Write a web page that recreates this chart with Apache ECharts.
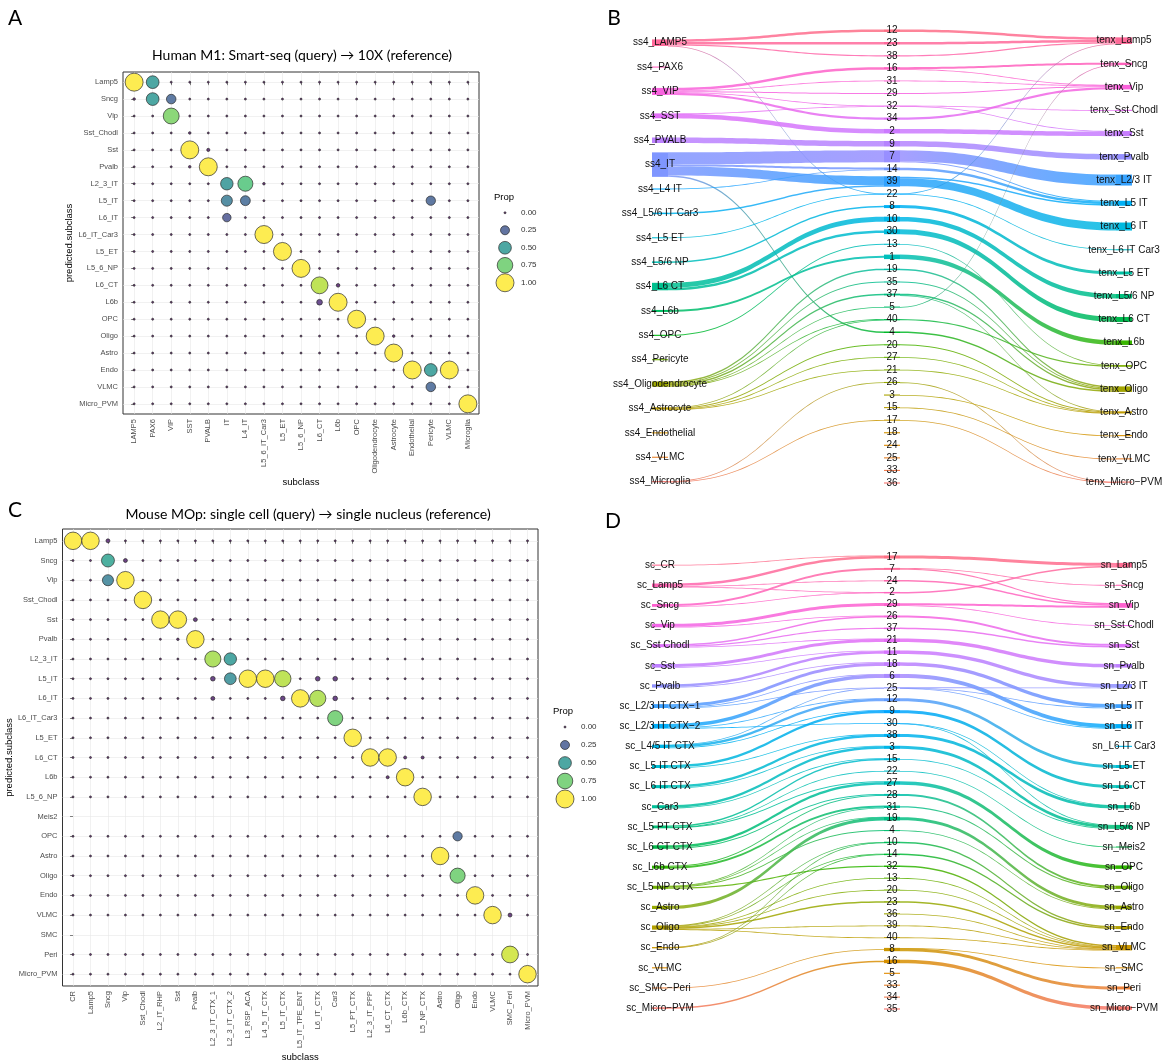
<!DOCTYPE html>
<html><head><meta charset="utf-8">
<script src="https://cdn.jsdelivr.net/npm/echarts@6/dist/echarts.min.js"></script>
<style>html,body{margin:0;padding:0;background:#fff}#c{width:1164px;height:1063px}</style>
</head><body><div id="c"></div>
<script>
// ================= DATA =================
// Panel A (dot plot)
const rowsA = ['Lamp5','Sncg','Vip','Sst_Chodl','Sst','Pvalb','L2_3_IT','L5_IT','L6_IT','L6_IT_Car3','L5_ET','L5_6_NP','L6_CT','L6b','OPC','Oligo','Astro','Endo','VLMC','Micro_PVM'];
const colsA = ['LAMP5','PAX6','VIP','SST','PVALB','IT','L4_IT','L5_6_IT_Car3','L5_ET','L5_6_NP','L6_CT','L6b','OPC','Oligodendrocyte','Astrocyte','Endothelial','Pericyte','VLMC','Microglia'];
const propA = [
 ['Lamp5','LAMP5',1.0],['Lamp5','PAX6',0.5],['Lamp5','VIP',0.01],
 ['Sncg','LAMP5',0.02],['Sncg','PAX6',0.5],['Sncg','VIP',0.28],
 ['Vip','VIP',0.78],
 ['Sst_Chodl','SST',0.02],
 ['Sst','VIP',0.01],['Sst','SST',1.0],['Sst','PVALB',0.03],
 ['Pvalb','SST',0.02],['Pvalb','PVALB',1.0],
 ['L2_3_IT','VIP',0.01],['L2_3_IT','IT',0.48],['L2_3_IT','L4_IT',0.7],['L2_3_IT','L5_6_IT_Car3',0.02],
 ['L5_IT','VIP',0.01],['L5_IT','SST',0.01],['L5_IT','IT',0.38],['L5_IT','L4_IT',0.3],['L5_IT','L6_CT',0.01],['L5_IT','Pericyte',0.27],
 ['L6_IT','IT',0.22],
 ['L6_IT_Car3','L5_6_IT_Car3',1.0],
 ['L5_ET','L5_ET',1.0],
 ['L5_6_NP','L5_6_NP',1.0],
 ['L6_CT','L6_CT',0.88],['L6_CT','L6b',0.04],
 ['L6b','L6_CT',0.1],['L6b','L6b',1.0],
 ['OPC','OPC',1.0],
 ['Oligo','PVALB',0.01],['Oligo','L6_CT',0.01],['Oligo','Oligodendrocyte',1.0],['Oligo','Astrocyte',0.02],
 ['Astro','Astrocyte',1.0],
 ['Endo','Oligodendrocyte',0.01],['Endo','Endothelial',1.0],['Endo','Pericyte',0.5],['Endo','VLMC',1.0],
 ['VLMC','Pericyte',0.28],
 ['Micro_PVM','Microglia',1.0]
];
const emptyRowsA = [];

// Panel C (dot plot)
const rowsC = ['Lamp5','Sncg','Vip','Sst_Chodl','Sst','Pvalb','L2_3_IT','L5_IT','L6_IT','L6_IT_Car3','L5_ET','L6_CT','L6b','L5_6_NP','Meis2','OPC','Astro','Oligo','Endo','VLMC','SMC','Peri','Micro_PVM'];
const colsC = ['CR','Lamp5','Sncg','Vip','Sst_Chodl','L2_IT_RHP','Sst','Pvalb','L2_3_IT_CTX_1','L2_3_IT_CTX_2','L3_RSP_ACA','L4_5_IT_CTX','L5_IT_CTX','L5_IT_TPE_ENT','L6_IT_CTX','Car3','L5_PT_CTX','L2_3_IT_PPP','L6_CT_CTX','L6b_CTX','L5_NP_CTX','Astro','Oligo','Endo','VLMC','SMC_Peri','Micro_PVM'];
const propC = [
 ['Lamp5','CR',1.0],['Lamp5','Lamp5',1.0],['Lamp5','Sncg',0.05],['Lamp5','Vip',0.01],
 ['Sncg','Lamp5',0.01],['Sncg','Sncg',0.55],['Sncg','Vip',0.05],
 ['Vip','Lamp5',0.01],['Vip','Sncg',0.4],['Vip','Vip',1.0],['Vip','L5_IT_CTX',0.01],['Vip','L6_IT_CTX',0.01],['Vip','L5_PT_CTX',0.01],
 ['Sst_Chodl','Sst_Chodl',1.0],
 ['Sst','L2_IT_RHP',1.0],['Sst','Sst',1.0],['Sst','Pvalb',0.05],
 ['Pvalb','Sst',0.02],['Pvalb','Pvalb',1.0],
 ['L2_3_IT','L2_3_IT_CTX_1',0.85],['L2_3_IT','L2_3_IT_CTX_2',0.5],['L2_3_IT','L5_NP_CTX',0.01],
 ['L5_IT','Sst',0.01],['L5_IT','L2_3_IT_CTX_1',0.07],['L5_IT','L2_3_IT_CTX_2',0.45],['L5_IT','L3_RSP_ACA',1.0],['L5_IT','L4_5_IT_CTX',1.0],['L5_IT','L5_IT_CTX',0.88],['L5_IT','L6_IT_CTX',0.07],['L5_IT','Car3',0.07],
 ['L6_IT','L2_3_IT_CTX_1',0.05],['L6_IT','L4_5_IT_CTX',0.01],['L6_IT','L5_IT_CTX',0.07],['L6_IT','L5_IT_TPE_ENT',1.0],['L6_IT','L6_IT_CTX',0.86],['L6_IT','Car3',0.07],['L6_IT','Astro',0.01],
 ['L6_IT_Car3','Car3',0.75],
 ['L5_ET','L5_PT_CTX',1.0],
 ['L6_CT','L2_3_IT_PPP',1.0],['L6_CT','L6_CT_CTX',1.0],['L6_CT','L6b_CTX',0.03],['L6_CT','L5_NP_CTX',0.03],
 ['L6b','L6_CT_CTX',0.03],['L6b','L6b_CTX',1.0],
 ['L5_6_NP','L5_NP_CTX',1.0],
 ['OPC','Oligo',0.28],
 ['Astro','Astro',1.0],
 ['Oligo','Oligo',0.75],
 ['Endo','Endo',1.0],
 ['VLMC','VLMC',1.0],['VLMC','SMC_Peri',0.05],
 ['Peri','SMC_Peri',0.92],
 ['Micro_PVM','Micro_PVM',1.0]
];
const emptyRowsC = ['Meis2','SMC'];
const legendVals = [0, 0.25, 0.5, 0.75, 1.0];

// Panel B (river plot)
const leftB = ['ss4_LAMP5','ss4_PAX6','ss4_VIP','ss4_SST','ss4_PVALB','ss4_IT','ss4_L4 IT','ss4_L5/6 IT Car3','ss4_L5 ET','ss4_L5/6 NP','ss4_L6 CT','ss4_L6b','ss4_OPC','ss4_Pericyte','ss4_Oligodendrocyte','ss4_Astrocyte','ss4_Endothelial','ss4_VLMC','ss4_Microglia'];
const midB = ['12','23','38','16','31','29','32','34','2','9','7','14','39','22','8','10','30','13','1','19','35','37','5','40','4','20','27','21','26','3','15','17','18','24','25','33','36'];
const rightB = ['tenx_Lamp5','tenx_Sncg','tenx_Vip','tenx_Sst Chodl','tenx_Sst','tenx_Pvalb','tenx_L2/3 IT','tenx_L5 IT','tenx_L6 IT','tenx_L6 IT Car3','tenx_L5 ET','tenx_L5/6 NP','tenx_L6 CT','tenx_L6b','tenx_OPC','tenx_Oligo','tenx_Astro','tenx_Endo','tenx_VLMC','tenx_Micro\u2212PVM'];
const flowsB_left = [
 ['ss4_LAMP5','12',2.5],['ss4_LAMP5','23',2.5],['ss4_LAMP5','38',1.2],['ss4_LAMP5','22',0.4],
 ['ss4_VIP','16',2.5],['ss4_VIP','31',0.8],['ss4_VIP','29',1.0],['ss4_VIP','32',0.6],['ss4_VIP','34',2.2],
 ['ss4_SST','32',0.4],['ss4_SST','2',4.5],
 ['ss4_PVALB','9',5.5],
 ['ss4_IT','7',12],['ss4_IT','14',2],['ss4_IT','39',9],['ss4_IT','4',1.5],
 ['ss4_L4 IT','14',0.8],
 ['ss4_L5/6 IT Car3','39',1.5],
 ['ss4_L5 ET','22',0.8],
 ['ss4_L5/6 NP','8',1.5],
 ['ss4_L6 CT','10',5],['ss4_L6 CT','30',2.5],
 ['ss4_L6b','1',2],
 ['ss4_OPC','13',1],
 ['ss4_Oligodendrocyte','19',1.5],['ss4_Oligodendrocyte','35',1],['ss4_Oligodendrocyte','37',1.5],['ss4_Oligodendrocyte','5',0.4],['ss4_Oligodendrocyte','40',0.8],
 ['ss4_Astrocyte','40',0.6],['ss4_Astrocyte','20',1],['ss4_Astrocyte','27',0.4],['ss4_Astrocyte','21',0.3],
 ['ss4_Microglia','26',0.5],['ss4_Microglia','17',0.4]
];
const flowsB_right = [
 ['12','tenx_Lamp5',2.5],['23','tenx_Lamp5',2.5],['38','tenx_Lamp5',1.2],
 ['16','tenx_Sncg',2],['16','tenx_Vip',0.5],['31','tenx_Vip',0.8],['29','tenx_Vip',1.0],
 ['32','tenx_Sst Chodl',0.4],['32','tenx_Sst',0.6],['34','tenx_Vip',2.2],
 ['2','tenx_Sst',4.5],['9','tenx_Pvalb',5.5],
 ['7','tenx_L2/3 IT',11],['7','tenx_L5 IT',1],['14','tenx_L5 IT',2.5],['39','tenx_L5 IT',1.5],['39','tenx_L6 IT',8],
 ['22','tenx_Lamp5',0.4],['22','tenx_L6 IT Car3',0.8],
 ['8','tenx_L5 ET',3],['10','tenx_L5/6 NP',4.5],['30','tenx_L6 CT',5],['13','tenx_OPC',0.5],['1','tenx_L6b',4.5],
 ['19','tenx_Oligo',1.5],['35','tenx_Oligo',1],['37','tenx_Oligo',1.5],['37','tenx_Astro',0.3],['5','tenx_Sncg',0.4],
 ['40','tenx_OPC',1.2],['4','tenx_Oligo',1.5],['20','tenx_Astro',1],['27','tenx_Astro',0.4],['21','tenx_Astro',0.4],
 ['26','tenx_Micro\u2212PVM',0.3],['3','tenx_Endo',0.3],['15','tenx_VLMC',0.3],['17','tenx_Micro\u2212PVM',0.3]
];

// Panel D (river plot)
const leftD = ['sc_CR','sc_Lamp5','sc_Sncg','sc_Vip','sc_Sst Chodl','sc_Sst','sc_Pvalb','sc_L2/3 IT CTX\u22121','sc_L2/3 IT CTX\u22122','sc_L4/5 IT CTX','sc_L5 IT CTX','sc_L6 IT CTX','sc_Car3','sc_L5 PT CTX','sc_L6 CT CTX','sc_L6b CTX','sc_L5 NP CTX','sc_Astro','sc_Oligo','sc_Endo','sc_VLMC','sc_SMC\u2212Peri','sc_Micro\u2212PVM'];
const midD = ['17','7','24','2','29','26','37','21','11','18','6','25','12','9','30','38','3','15','22','27','28','31','19','4','10','14','32','13','20','23','36','39','40','8','16','5','33','34','35'];
const rightD = ['sn_Lamp5','sn_Sncg','sn_Vip','sn_Sst Chodl','sn_Sst','sn_Pvalb','sn_L2/3 IT','sn_L5 IT','sn_L6 IT','sn_L6 IT Car3','sn_L5 ET','sn_L6 CT','sn_L6b','sn_L5/6 NP','sn_Meis2','sn_OPC','sn_Oligo','sn_Astro','sn_Endo','sn_VLMC','sn_SMC','sn_Peri','sn_Micro\u2212PVM'];
const flowsD_left = [
 ['sc_CR','17',0.6],
 ['sc_Lamp5','17',2.5],['sc_Lamp5','24',0.6],['sc_Lamp5','2',0.4],
 ['sc_Sncg','7',2],['sc_Sncg','2',0.8],
 ['sc_Vip','29',3],['sc_Vip','26',0.5],
 ['sc_Sst Chodl','26',1.5],['sc_Sst Chodl','37',1.2],['sc_Sst Chodl','21',0.4],
 ['sc_Sst','21',3],['sc_Sst','11',0.6],
 ['sc_Pvalb','11',2.5],['sc_Pvalb','18',0.8],
 ['sc_L2/3 IT CTX\u22121','18',3],['sc_L2/3 IT CTX\u22121','6',0.5],['sc_L2/3 IT CTX\u22121','25',0.4],
 ['sc_L2/3 IT CTX\u22122','6',3.5],['sc_L2/3 IT CTX\u22122','30',0.7],['sc_L2/3 IT CTX\u22122','12',0.4],
 ['sc_L4/5 IT CTX','12',2.5],['sc_L4/5 IT CTX','9',0.6],['sc_L4/5 IT CTX','25',0.3],
 ['sc_L5 IT CTX','9',2.5],['sc_L5 IT CTX','38',0.5],
 ['sc_L6 IT CTX','38',2.5],['sc_L6 IT CTX','3',0.6],
 ['sc_Car3','3',2.5],['sc_Car3','15',0.6],
 ['sc_L5 PT CTX','15',1.5],['sc_L5 PT CTX','27',1],['sc_L5 PT CTX','22',0.3],
 ['sc_L6 CT CTX','27',2.5],['sc_L6 CT CTX','28',1],
 ['sc_L6b CTX','28',1],['sc_L6b CTX','31',2],
 ['sc_L5 NP CTX','31',0.4],['sc_L5 NP CTX','19',0.5],['sc_L5 NP CTX','4',1.0],['sc_L5 NP CTX','32',1.2],
 ['sc_Astro','19',3.2],
 ['sc_Oligo','23',1.5],['sc_Oligo','13',0.4],['sc_Oligo','20',0.4],['sc_Oligo','10',0.5],['sc_Oligo','14',0.6],['sc_Oligo','39',0.4],['sc_Oligo','40',0.4],
 ['sc_Endo','10',0.5],['sc_Endo','14',0.8],
 ['sc_SMC\u2212Peri','8',0.8],
 ['sc_Micro\u2212PVM','16',1.5]
];
const flowsD_right = [
 ['17','sn_Lamp5',3],['7','sn_Sncg',0.6],['7','sn_Vip',1.2],['24','sn_Vip',1.5],['2','sn_Lamp5',1.5],
 ['29','sn_Vip',2],['29','sn_Sst Chodl',0.6],['26','sn_Sst',2],['37','sn_Sst',1.5],['21','sn_Pvalb',3.5],
 ['11','sn_L2/3 IT',3.5],['18','sn_L5 IT',3.5],['6','sn_L6 IT',4],
 ['25','sn_L2/3 IT',0.4],['25','sn_L5 IT',0.3],['25','sn_L6 IT',0.3],
 ['12','sn_L5 ET',3],['9','sn_L6 CT',3],['30','sn_L6b',0.4],['30','sn_L5/6 NP',0.4],['38','sn_L6b',3],
 ['3','sn_L5/6 NP',3],['15','sn_L5/6 NP',0.6],['22','sn_Meis2',0.4],
 ['27','sn_OPC',3.5],['28','sn_Oligo',2],['31','sn_Oligo',1.2],['19','sn_Astro',3],['4','sn_Astro',0.6],
 ['10','sn_Endo',1.5],['14','sn_Endo',1.5],
 ['32','sn_VLMC',1.5],['13','sn_VLMC',0.4],['20','sn_VLMC',0.4],['23','sn_VLMC',1.5],['36','sn_VLMC',0.4],['39','sn_VLMC',0.6],['40','sn_VLMC',0.6],
 ['8','sn_Peri',3],['8','sn_SMC',0.3],['16','sn_Micro\u2212PVM',3.5]
];

// ================= HELPERS =================
const FONT = "'Liberation Sans', Arial, Helvetica, sans-serif";
const TFONT = "Lato, 'Open Sans', 'Noto Sans', sans-serif";
const VIR = ['#440154','#482475','#414487','#355f8d','#2a788e','#21918c','#22a884','#44bf70','#7ad151','#bddf26','#fde725'];
function hexRgb(h){return [parseInt(h.slice(1,3),16),parseInt(h.slice(3,5),16),parseInt(h.slice(5,7),16)];}
function viridisA(t){
  t=Math.max(0,Math.min(1,t)); const s=t*10, i=Math.min(9,Math.floor(s)), f=s-i;
  const a=hexRgb(VIR[i]), b=hexRgb(VIR[i+1]), al=0.8;
  const c=a.map((v,k)=>Math.round((v+(b[k]-v)*f)*al+255*(1-al)));
  return 'rgb('+c.join(',')+')';
}
function hclHex(h, c=100, l=65){
  const hr=h*Math.PI/180, U=c*Math.cos(hr), V=c*Math.sin(hr);
  const Xn=0.95047,Yn=1,Zn=1.08883, den=Xn+15*Yn+3*Zn, un=4*Xn/den, vn=9*Yn/den;
  const Y=l>8?Yn*Math.pow((l+16)/116,3):Yn*l/903.3;
  const u=U/(13*l)+un, v=V/(13*l)+vn;
  const X=Y*9*u/(4*v), Z=Y*(12-3*u-20*v)/(4*v);
  const r=3.2404542*X-1.5371385*Y-0.4985314*Z, g=-0.9692660*X+1.8760108*Y+0.0415560*Z, b=0.0556434*X-0.2040259*Y+1.0572252*Z;
  const gm=x=>{x=Math.max(0,Math.min(1,x));return x<=0.0031308?12.92*x:1.055*Math.pow(x,1/2.4)-0.055;};
  return '#'+[r,g,b].map(x=>Math.round(gm(x)*255).toString(16).padStart(2,'0')).join('');
}
function dotData(rows, cols, props, emptyRows){
  const m={}; props.forEach(([r,c,v])=>{m[r+'|'+c]=v;});
  const out=[];
  rows.forEach((r,i)=>{ if(emptyRows.includes(r)) return; cols.forEach((c,j)=>out.push([j,i,m[r+'|'+c]||0])); });
  return out.sort((a,b)=>a[2]-b[2]);
}
const sizeFn=(p,maxD)=>Math.max(2,maxD*Math.sqrt(p));

function buildRiver(L,M,R,fLM,fMR,spans){
  const cols=[L,M,R];
  const nodes=[]; const byCol=[{},{},{}];
  cols.forEach((ns,c)=>ns.forEach((name,i)=>{
    const [a,b]=spans[c];
    const n={name,col:c,i,pos:a+(b-a)*i/(ns.length-1),color:hclHex(15+360*(ns.length-1-i)/ns.length),inS:0,outS:0};
    nodes.push(n); byCol[c][name]=n;
  }));
  const flows=[];
  fLM.forEach(([s,t,v])=>flows.push({src:byCol[0][s],tgt:byCol[1][t],v}));
  fMR.forEach(([s,t,v])=>flows.push({src:byCol[1][s],tgt:byCol[2][t],v}));
  flows.forEach(f=>{ if(!f.src||!f.tgt) console.error('bad flow',f); f.src.outS+=f.v; f.tgt.inS+=f.v; });
  nodes.forEach(n=>{
    n.size=Math.max(n.inS,n.outS);
    const outs=flows.filter(f=>f.src===n).sort((a,b)=>a.tgt.i-b.tgt.i);
    let o=-n.outS/2; outs.forEach(f=>{f.off0=o;o+=f.v;});
    const ins=flows.filter(f=>f.tgt===n).sort((a,b)=>a.src.i-b.src.i);
    let q=-n.inS/2; ins.forEach(f=>{f.off1=q;q+=f.v;});
  });
  return {nodes,flows};
}
const NW=16, PX=1.0;
function riverSeries(rb, gi){
  const flowS={type:'custom',coordinateSystem:'cartesian2d',xAxisIndex:gi,yAxisIndex:gi,clip:false,silent:true,z:2,
    data:rb.flows.map(f=>[f.src.col,f.src.pos]),encode:{x:0,y:1},
    renderItem:(params,api)=>{
      const f=rb.flows[params.dataIndex];
      const a=api.coord([f.src.col,f.src.pos]), b=api.coord([f.tgt.col,f.tgt.pos]);
      const th=Math.max(f.v*PX,0.8);
      const xa=a[0]+NW/2, xb=b[0]-NW/2, xm=(xa+xb)/2;
      const ya0=a[1]+f.off0*PX, ya1=ya0+th, yb0=b[1]+f.off1*PX, yb1=yb0+th;
      const N=40, top=[], bot=[];
      for(let k=0;k<=N;k++){const t=k/N, mt=1-t;
        const x=mt*mt*mt*xa+3*mt*mt*t*xm+3*mt*t*t*xm+t*t*t*xb; const s=3*t*t-2*t*t*t;
        top.push([x,ya0+(yb0-ya0)*s]); bot.push([x,ya1+(yb1-ya1)*s]);}
      return {type:'polygon',shape:{points:top.concat(bot.reverse())},
        style:{fill:{type:'linear',x:0,y:0,x2:1,y2:0,colorStops:[{offset:0,color:f.src.color},{offset:1,color:f.tgt.color}]},opacity:0.85}};
    }};
  const nodeS={type:'custom',coordinateSystem:'cartesian2d',xAxisIndex:gi,yAxisIndex:gi,clip:false,silent:true,z:5,
    data:rb.nodes.map(n=>[n.col,n.pos]),encode:{x:0,y:1},
    renderItem:(params,api)=>{
      const n=rb.nodes[params.dataIndex]; const p=api.coord([n.col,n.pos]);
      const h=Math.max(n.size*PX,1.1);
      return {type:'group',children:[
        {type:'rect',shape:{x:p[0]-NW/2,y:p[1]-h/2,width:NW,height:h},style:{fill:n.color}},
        {type:'text',x:p[0],y:p[1],z2:10,style:{text:n.name,align:'center',verticalAlign:'middle',fontSize:10,fontFamily:FONT,fill:'#111'}}
      ]};
    }};
  return [flowS,nodeS];
}

// ================= AXES =================
function dotAxes(gi, rows, cols, xName, yName, xGap, yGap){
  const ci=cols.map((_,i)=>i), ri=rows.map((_,i)=>i);
  const lab={fontSize:7.5,color:'#4d4d4d',fontFamily:FONT};
  const tick={show:true,length:3,lineStyle:{color:'#333',width:0.6}};
  const split={show:true,lineStyle:{color:'#e8e8e8',width:0.6}};
  const x={type:'value',gridIndex:gi,min:-0.6,max:cols.length-0.4,position:'bottom',
    axisLine:{show:false},axisTick:Object.assign({customValues:ci},tick),
    axisLabel:Object.assign({customValues:ci,formatter:v=>cols[Math.round(v)],rotate:90,margin:5},lab),
    splitLine:split,name:xName,nameLocation:'middle',nameGap:xGap,nameTextStyle:{fontSize:9.5,color:'#000',fontFamily:FONT}};
  const y={type:'value',gridIndex:gi,min:-0.6,max:rows.length-0.4,inverse:true,
    axisLine:{show:false},axisTick:Object.assign({customValues:ri},tick),
    axisLabel:Object.assign({customValues:ri,formatter:v=>rows[Math.round(v)],margin:5},lab),
    splitLine:split,name:yName,nameLocation:'middle',nameGap:yGap,nameTextStyle:{fontSize:9.5,color:'#000',fontFamily:FONT}};
  return [x,y];
}
function legAxes(gi){
  return [{type:'value',gridIndex:gi,min:-1,max:1,show:false},
    {type:'category',gridIndex:gi,data:legendVals.map(v=>v.toFixed(2)),inverse:true,position:'right',
      axisLine:{show:false},axisTick:{show:false},splitLine:{show:false},
      axisLabel:{margin:8,fontSize:8,color:'#333',fontFamily:FONT}}];
}
const [xA,yA]=dotAxes(0,rowsA,colsA,'subclass','predicted.subclass',57,44);
const [xC,yC]=dotAxes(2,rowsC,colsC,'subclass','predicted.subclass',63,44);
const [xLA,yLA]=legAxes(1), [xLC,yLC]=legAxes(3);
const rvX=gi=>({type:'value',gridIndex:gi,min:0,max:2,show:false});
const rvY=gi=>({type:'value',gridIndex:gi,min:0,max:1,inverse:true,show:false});

const rbB=buildRiver(leftB,midB,rightB,flowsB_left,flowsB_right,[[0.0265,0.997],[0,1],[0.022,0.998]]);
const rbD=buildRiver(leftD,midD,rightD,flowsD_left,flowsD_right,[[0.018,0.998],[0,1],[0.018,0.998]]);

function dotSeries(gi,data,maxD){
  return {type:'scatter',xAxisIndex:gi,yAxisIndex:gi,data,silent:true,
    symbolSize:v=>sizeFn(v[2],maxD),
    itemStyle:{color:p=>viridisA(p.value[2]),borderColor:'#2b2b2b',borderWidth:0.7,opacity:1}};
}

const option={
  animation:false,backgroundColor:'#fff',
  grid:[
    {left:123,top:72,width:356,height:342,show:true,borderColor:'#333',borderWidth:1,containLabel:false},
    {left:497,top:204,width:16,height:87.5},
    {left:62.5,top:529,width:475.5,height:459.6,show:true,borderColor:'#333',borderWidth:1},
    {left:557,top:718,width:16,height:90},
    {left:660,top:30.7,width:464,height:452.3},
    {left:660,top:557,width:464,height:452}
  ],
  xAxis:[xA,xLA,xC,xLC,rvX(4),rvX(5)],
  yAxis:[yA,yLA,yC,yLC,rvY(4),rvY(5)],
  series:[
    dotSeries(0,dotData(rowsA,colsA,propA,emptyRowsA),18),
    dotSeries(1,legendVals.map((v,i)=>[0,i,v]),18),
    dotSeries(2,dotData(rowsC,colsC,propC,emptyRowsC),17.5),
    dotSeries(3,legendVals.map((v,i)=>[0,i,v]),18),
    ...riverSeries(rbB,4),
    ...riverSeries(rbD,5)
  ],
  graphic:[
    {type:'text',x:15,y:18,style:{text:'A',fontSize:21,fontFamily:TFONT,fill:'#000',align:'center',verticalAlign:'middle'}},
    {type:'text',x:614,y:18,style:{text:'B',fontSize:21,fontFamily:TFONT,fill:'#000',align:'center',verticalAlign:'middle'}},
    {type:'text',x:15,y:510,style:{text:'C',fontSize:21,fontFamily:TFONT,fill:'#000',align:'center',verticalAlign:'middle'}},
    {type:'text',x:613,y:521,style:{text:'D',fontSize:21,fontFamily:TFONT,fill:'#000',align:'center',verticalAlign:'middle'}},
    {type:'text',x:302,y:55,style:{text:'Human M1: Smart-seq (query) \u2192 10X (reference)',fontSize:14,fontFamily:TFONT,fill:'#000',align:'center',verticalAlign:'middle'}},
    {type:'text',x:308,y:514,style:{text:'Mouse MOp: single cell (query) \u2192 single nucleus (reference)',fontSize:14,fontFamily:TFONT,fill:'#000',align:'center',verticalAlign:'middle'}},
    {type:'text',x:494,y:197,style:{text:'Prop',fontSize:9.5,fontFamily:FONT,fill:'#000',align:'left',verticalAlign:'middle'}},
    {type:'text',x:553,y:711,style:{text:'Prop',fontSize:9.5,fontFamily:FONT,fill:'#000',align:'left',verticalAlign:'middle'}}
  ]
};
const chart=echarts.init(document.getElementById('c'),null,{renderer:'canvas'});
chart.setOption(option);
</script></body></html>
